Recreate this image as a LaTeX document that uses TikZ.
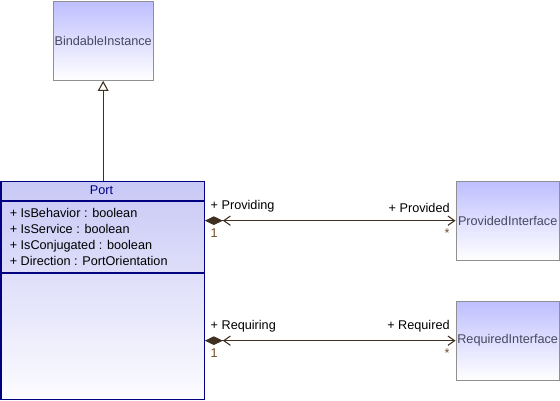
\documentclass[tikz,border=0pt]{standalone}
\usepackage{fontspec}
\setmainfont{Liberation Sans}
\usepackage{tikz}
\usetikzlibrary{positioning,arrows.meta}
\definecolor{lineColor}{RGB}{64,48,32}
\definecolor{portBorder}{RGB}{0,0,128}
\definecolor{portTop}{RGB}{200,200,246}
\definecolor{portBottom}{RGB}{252,252,255}
\definecolor{classTop}{RGB}{190,190,255}
\definecolor{classBorder}{RGB}{144,144,144}
\definecolor{classText}{RGB}{72,72,96}
\definecolor{endText}{RGB}{110,80,40}
\newcommand{\px}{0.75pt}
\tikzstyle{diagram} = [x = \px, y = -\px]
\tikzstyle{umlFont} = [font=\fontsize{9.5}{12}\selectfont]
\tikzstyle{classStyle} = [draw=classBorder, line width=1pt, top color=classTop, bottom color=white, text=classText, umlFont, inner sep=0pt, minimum width=100*\px, minimum height=79*\px, anchor=north west]
\tikzstyle{portStyle} = [draw=portBorder, line width=1pt, top color=portTop, bottom color=portBottom, inner sep=0pt, minimum width=203*\px, minimum height=218*\px, anchor=north west]
\tikzstyle{portLine} = [draw=portBorder, line width=1pt]
\tikzstyle{portName} = [umlFont, text=portBorder, inner sep=0pt]
\tikzstyle{attrText} = [umlFont, inner sep=0pt, anchor=base west]
\tikzstyle{assocLine} = [draw=lineColor, line width=0.8pt, {Diamond[length=13.5pt,width=6.5pt]Straight Barb[length=5pt,width=7pt]}-{Straight Barb[length=5pt,width=7pt]}]
\tikzstyle{generalLine} = [draw=lineColor, line width=0.8pt, -{Triangle[open,length=7.5pt,width=8pt,fill=white]}]
\tikzstyle{roleLabel} = [umlFont, inner xsep=4pt, inner ysep=6pt]
\tikzstyle{multLabel} = [roleLabel, text=endText]
\newcommand{\umlClass}[4]{\node [classStyle, minimum width=#4*\px] (#1) at (#2) {#3};}
\newcommand{\association}[5]{
  \draw [assocLine] (port.east |- #1.west) -- (#1.west)
    node [roleLabel, pos=0, anchor=south west] {+ #2}
    node [multLabel, pos=0, anchor=north west] {#4}
    node [roleLabel, pos=1, anchor=south east] {+ #3}
    node [multLabel, pos=1, anchor=north east] {#5};
}

\begin{document}
\begin{tikzpicture}[diagram]
  \useasboundingbox (0,0) rectangle (560,400);

  \umlClass{bindable}{52.5,0.5}{BindableInstance}{100}
  \umlClass{provided}{455.5,180.5}{ProvidedInterface}{103}
  \umlClass{required}{455.5,300.5}{RequiredInterface}{103}

  \node [portStyle] (port) at (0.5,180.5) {};
  \node [portName] (portTitle) at (101.5,190.5) {Port};
  \foreach \sepY in {201,273}
    \draw [portLine] (port.west |- 0,\sepY) -- (port.east |- 0,\sepY);
  \foreach \attr [count=\i] in {{+ IsBehavior : boolean}, {+ IsService : boolean},
                               {+ IsConjugated : boolean}, {+ Direction : PortOrientation}}
    \node [attrText] (attr\i) at ({9.5}, {217 + 16 * (\i - 1)}) {\attr};

  \draw [generalLine] (bindable.south |- port.north) -- (bindable.south);

  \association{provided}{Providing}{Provided}{1}{*}
  \association{required}{Requiring}{Required}{1}{*}
\end{tikzpicture}
\end{document}
